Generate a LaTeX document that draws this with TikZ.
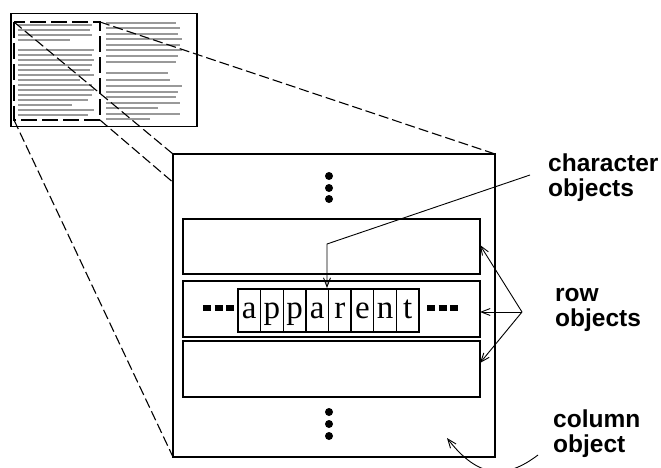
\documentclass[tikz,border=0pt]{standalone}
\usepackage{fontspec}
\setmainfont{Liberation Serif}
\newfontfamily\labelfont{Liberation Sans}
\usetikzlibrary{arrows.meta}
\begin{document}
\begin{tikzpicture}[x=1pt,y=-1pt,
  thumbline/.style={draw=black!40,line width=2.8pt},
  projline/.style={line width=1.1pt,dash pattern=on 10pt off 4pt},
  colrect/.style={line width=1.6pt,dash pattern=on 16pt off 5pt},
  bigbox/.style={draw,fill=white,line width=1.3pt},
  rowbox/.style={draw,line width=1.3pt},
  charbox/.style={draw,line width=1.3pt},
  letter/.style={anchor=base,inner sep=0pt,font=\fontsize{33}{33}\selectfont},
  lab/.style={anchor=north west,align=left,inner sep=0pt,font=\labelfont\bfseries\fontsize{24.5}{25}\selectfont},
  bigdot/.style={circle,fill=black,inner sep=0pt,minimum size=8pt},
  ellip/.style={line width=6pt,dash pattern=on 8pt off 3.5pt},
  pointer/.style={line width=0.9pt,-{Straight Barb[length=9pt,width=7pt]}}]
\useasboundingbox (0,0) rectangle (661,468);

% thumbnail page
\foreach \y/\xe in {25/92,30/90,35/92,40/70,50/94,55/92,60/94,65/92,70/90,75/94,80/80,85/92,90/94,95/92,100/88,105/72,110/94,115/88}
  \draw[thumbline] (18,\y) -- (\xe,\y);
\foreach \y/\xe in {23/176,28/180,34/178,39/182,45/180,50/182,56/178,62/176,73/168,80/170,86/182,92/178,97/176,103/180,108/158,114/180,119/150}
  \draw[thumbline] (106,\y) -- (\xe,\y);
\node[draw,line width=1.5pt,inner sep=0pt,minimum width=186pt,minimum height=113pt,anchor=north west] (page) at (10,13) {};
\coordinate (ctl) at (14,22);
\coordinate (ctr) at (100,22);
\coordinate (cbl) at (14,120);
\coordinate (cbr) at (100,120);
\draw[colrect] (ctl) rectangle (cbr);

% projection lines
\coordinate (btl) at (173,154);
\coordinate (btr) at (495,154);
\coordinate (bbl) at (173,457);
\coordinate (bbr) at (495,457);
\draw[projline] (ctl) -- (btl);
\draw[projline] (ctr) -- (btr);
\draw[projline] (cbl) -- (bbl);
\draw[projline] (cbr) -- (bbr);

% enlarged column
\draw[bigbox] (btl) rectangle (bbr);
\node[bigdot] (d1) at (329,176) {};
\node[bigdot] (d2) at (329,188) {};
\node[bigdot] (d3) at (329,199) {};
\node[bigdot] (d4) at (329,412) {};
\node[bigdot] (d5) at (329,424) {};
\node[bigdot] (d6) at (329,436) {};

\draw[rowbox] (183,219) coordinate (r1a) rectangle (480,274) coordinate (r1b);
\draw[rowbox] (183,281) coordinate (r2a) rectangle (480,337) coordinate (r2b);
\draw[rowbox] (183,341) coordinate (r3a) rectangle (480,397) coordinate (r3b);

% characters
\foreach \c [count=\i from 0] in {a,p,p,a,r,e,n,t}{
  \pgfmathsetmacro{\xa}{238+\i*22.625}
  \pgfmathsetmacro{\xb}{238+(\i+1)*22.625}
  \pgfmathsetmacro{\xm}{238+(\i+0.5)*22.625}
  \draw[charbox] (\xa,289) rectangle (\xb,332);
  \node[letter] (ch\i) at (\xm,318) {\c};
}
\draw[ellip] (203,308) coordinate (el1) -- (234,308) coordinate (el2);
\draw[ellip] (427,308) coordinate (er1) -- (458,308) coordinate (er2);

% labels
\node[lab] (charlab) at (548,154) {character\\objects};
\node[lab] (rowlab) at (555,288) {row\\objects};
\node[lab] (collab) at (553,410) {column\\object};

% pointers
\coordinate (cstart) at (530,175);
\coordinate (cbend) at (327,244);
\coordinate (cend) at (327,288);
\draw[pointer] (cstart) -- (cbend) -- (cend);

\coordinate (rhub) at (522,312);
\coordinate (rt1) at (480,245);
\coordinate (rt2) at (480,312);
\coordinate (rt3) at (480,363);
\draw[pointer] (rhub) -- (rt1);
\draw[pointer] (rhub) -- (rt2);
\draw[pointer] (rhub) -- (rt3);

\coordinate (colstart) at (538,455);
\coordinate (colend) at (447,438);
\draw[pointer] (colstart) .. controls (505,480) and (478,478) .. (colend);
\end{tikzpicture}
\end{document}
